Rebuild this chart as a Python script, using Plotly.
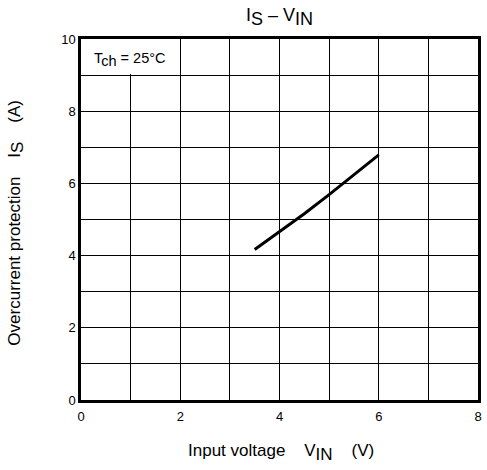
import plotly.graph_objects as go

# Data
v_in = [3.5, 4.0, 4.5, 5.0, 5.5, 6.0]
i_s = [4.17, 4.66, 5.16, 5.69, 6.23, 6.79]

x_ticks = [0, 2, 4, 6, 8]
y_ticks = [0, 2, 4, 6, 8, 10]

FONT = "Liberation Sans, Arial, sans-serif"

fig = go.Figure()
fig.add_trace(go.Scatter(x=v_in, y=i_s, mode="lines",
                         line=dict(color="black", width=3),
                         hoverinfo="skip", showlegend=False))

L, R, T, B = 81, 5, 39, 70
W, H = 487, 470
pw, ph = W - L - R, H - T - B

def px(xpix):
    return (xpix - L) / pw

def py(ypix):
    return (H - B - ypix) / ph

fig.update_layout(
    width=W, height=H,
    margin=dict(l=L, r=R, t=T, b=B),
    paper_bgcolor="white", plot_bgcolor="white",
    font=dict(family=FONT, size=13, color="black"),
    showlegend=False,
)

fig.update_xaxes(range=[0, 8], tickvals=x_ticks, ticktext=[str(v) for v in x_ticks],
                 showgrid=True, gridcolor="black", gridwidth=1.4,
                 minor=dict(dtick=1, showgrid=True, gridcolor="black", gridwidth=1.1),
                 showline=True, linecolor="black", linewidth=2.5, mirror=True,
                 zeroline=False, ticks="outside", ticklen=0, ticklabelstandoff=3,
                 tickfont=dict(size=13))
fig.update_yaxes(range=[0, 10], tickvals=y_ticks, ticktext=[str(v) for v in y_ticks],
                 showgrid=True, gridcolor="black", gridwidth=1.4,
                 minor=dict(dtick=1, showgrid=True, gridcolor="black", gridwidth=1.1),
                 showline=True, linecolor="black", linewidth=2.5, mirror=True,
                 zeroline=False, ticks="outside", ticklen=0, ticklabelstandoff=0,
                 tickfont=dict(size=13))

# White box behind the condition label (hides grid lines inside it)
fig.add_shape(type="rect", xref="x", yref="y", x0=0, x1=1.97, y0=9.03, y1=10,
              fillcolor="white", line=dict(width=0), layer="between")

def sub(t, size):
    return f"<sub><span style='font-size:{size}px'>{t}</span></sub>"

SP = "&nbsp;" * 4

fig.add_annotation(x=0.98, y=9.43, xref="x", yref="y",
                   text="T" + sub("ch", 14.5) + " = 25°C",
                   showarrow=False, font=dict(size=14.5), xanchor="center", yanchor="middle")

fig.add_annotation(x=px(281.5), y=py(17), xref="paper", yref="paper",
                   text="I" + sub("S", 18) + " – V" + sub("IN", 18),
                   showarrow=False, font=dict(size=18), xanchor="center", yanchor="middle")

fig.add_annotation(x=px(283), y=py(452), xref="paper", yref="paper",
                   text="Input voltage" + SP + "V" + sub("IN", 17) + SP + "(V)",
                   showarrow=False, font=dict(size=17), xanchor="center", yanchor="middle")

fig.add_annotation(x=px(15), y=py(223), xref="paper", yref="paper",
                   text="Overcurrent protection" + SP + "I" + sub("S", 17) + SP + "(A)",
                   textangle=-90,
                   showarrow=False, font=dict(size=17), xanchor="center", yanchor="middle")

fig.write_html("out.html")
